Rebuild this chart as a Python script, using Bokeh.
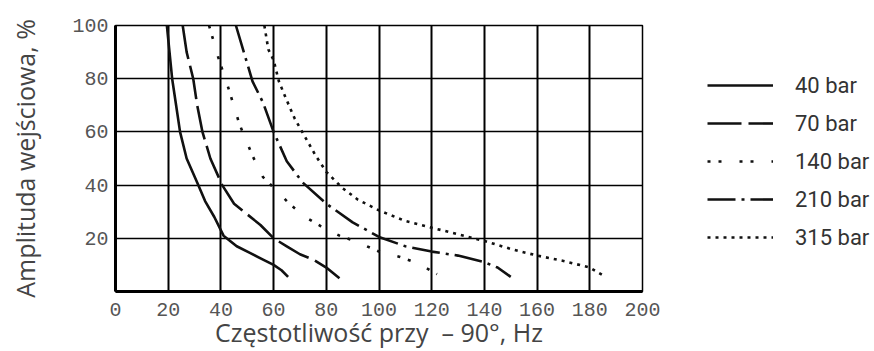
from bokeh.plotting import figure
from bokeh.layouts import row
from bokeh.models import Legend, LegendItem, FixedTicker
from bokeh.embed import file_html
from bokeh.resources import INLINE

# Data (frequency in Hz, amplitude in %)
freq_40 = [19.5, 20.5, 21.5, 23, 24.5, 27, 31, 34, 37.5, 41, 46, 51, 56, 60, 63, 65.5]
amp_40 = [100, 90, 80, 70, 60, 50, 41, 34, 28, 21, 17, 14.5, 12, 10, 8, 5.5]

freq_70 = [25.5, 27, 29.5, 31, 33, 36, 40.5, 45, 50, 55, 60, 65, 70, 75, 80, 85]
amp_70 = [100, 90, 80, 70, 60, 50, 40, 33, 29, 25, 20, 17, 14, 12, 9, 5]

freq_140 = [35.5, 39, 43, 47, 52, 56, 61, 66, 72, 78, 85, 92, 100, 108, 115, 122]
amp_140 = [100, 88, 76, 63, 51, 43, 38, 33, 28, 24.5, 21, 18.5, 15, 13, 10.5, 6.5]

freq_210 = [45.7, 49, 52, 56, 60, 65, 71, 80, 90, 100, 110, 120, 130, 140, 145, 150]
amp_210 = [100, 89, 79, 71, 60, 49, 41, 33, 26, 20.5, 17, 15, 13.5, 11, 9, 5.5]

freq_315 = [56.5, 58, 60, 62, 64.5, 68, 72, 76, 80, 86, 92, 100, 110, 120, 130, 140,
            150, 160, 170, 180, 186]
amp_315 = [100, 91, 87, 79, 73, 65, 58, 51, 45, 39, 34.5, 30.5, 26.5, 24, 21.5, 19,
           16, 13.5, 11.5, 9, 5.5]

series_labels = ["40 bar", "70 bar", "140 bar", "210 bar", "315 bar"]
x_ticks = [0, 20, 40, 60, 80, 100, 120, 140, 160, 180, 200]
y_ticks = [20, 40, 60, 80, 100]
x_grid = [20, 40, 60, 80, 100, 120, 140, 160, 180]
y_grid = [20, 40, 60, 80]

series = [(freq_40, amp_40, None), (freq_70, amp_70, "34 7"),
          (freq_140, amp_140, "3 8 3 18"), (freq_210, amp_210, "28 6 3 6"),
          (freq_315, amp_315, "3 5")]

p = figure(width=674, height=351, x_range=(0, 200), y_range=(0, 100),
           output_backend="svg", toolbar_location=None,
           min_border_left=115, min_border_right=32,
           min_border_top=25, min_border_bottom=59)

p.background_fill_color = "white"
p.border_fill_color = "white"
p.outline_line_color = "black"
p.outline_line_width = 1.5

p.xgrid.ticker = FixedTicker(ticks=x_grid)
p.ygrid.ticker = FixedTicker(ticks=y_grid)
p.xgrid.grid_line_color = "black"
p.xgrid.grid_line_width = 2
p.ygrid.grid_line_color = "black"
p.ygrid.grid_line_width = 1.5

p.xaxis.ticker = FixedTicker(ticks=x_ticks)
p.yaxis.ticker = FixedTicker(ticks=y_ticks)
for ax in (p.xaxis, p.yaxis):
    ax.axis_line_width = 3
    ax.axis_line_color = "black"
    ax.major_tick_line_color = None
    ax.minor_tick_line_color = None
    ax.major_label_text_font = "Liberation Mono"
    ax.major_label_text_font_size = "20px"
    ax.major_label_text_color = "#555"
    ax.axis_label_text_font = "Open Sans"
    ax.axis_label_text_font_style = "normal"
    ax.axis_label_text_font_size = "25px"
    ax.axis_label_text_color = "#444"

p.xaxis.major_label_standoff = 5
p.xaxis.axis_label_standoff = -4
p.yaxis.major_label_standoff = 1
p.yaxis.axis_label_standoff = 27
p.xaxis.axis_label = "Częstotliwość przy\u00a0 – 90°, Hz"
p.yaxis.axis_label = "Amplituda wejściowa, %"

col = "#111111"
for fx, ay, dash in series:
    kw = {} if dash is None else {"line_dash": dash}
    p.line(fx, ay, line_color=col, line_width=2.6, **kw)

# Key panel to the right: a figure that holds only the legend (its own
# renderers lie outside its 0..1 ranges, so only the legend samples show)
q = figure(width=200, height=351, x_range=(0, 1), y_range=(0, 1),
           output_backend="svg", toolbar_location=None,
           x_axis_type=None, y_axis_type=None,
           min_border_left=0, min_border_right=0, min_border_top=0, min_border_bottom=0)
q.outline_line_color = None
q.grid.visible = False
q.background_fill_color = "white"
q.border_fill_color = "white"

items = []
for lab, (fx, ay, dash) in zip(series_labels, series):
    kw = {} if dash is None else {"line_dash": dash}
    r = q.line(fx, ay, line_color=col, line_width=2.6, **kw)
    items.append(LegendItem(label=lab, renderers=[r]))

legend = Legend(
    items=items, location=(33, 35), glyph_width=66, glyph_height=38, label_height=38,
    spacing=0, padding=0, margin=0, border_line_color=None,
    background_fill_alpha=0, label_standoff=22,
    label_text_font="Roboto", label_text_font_size="22px",
    label_text_color="#333",
)
q.add_layout(legend)

layout = row(p, q, spacing=0)
open("out.html", "w").write(file_html(layout, INLINE))
